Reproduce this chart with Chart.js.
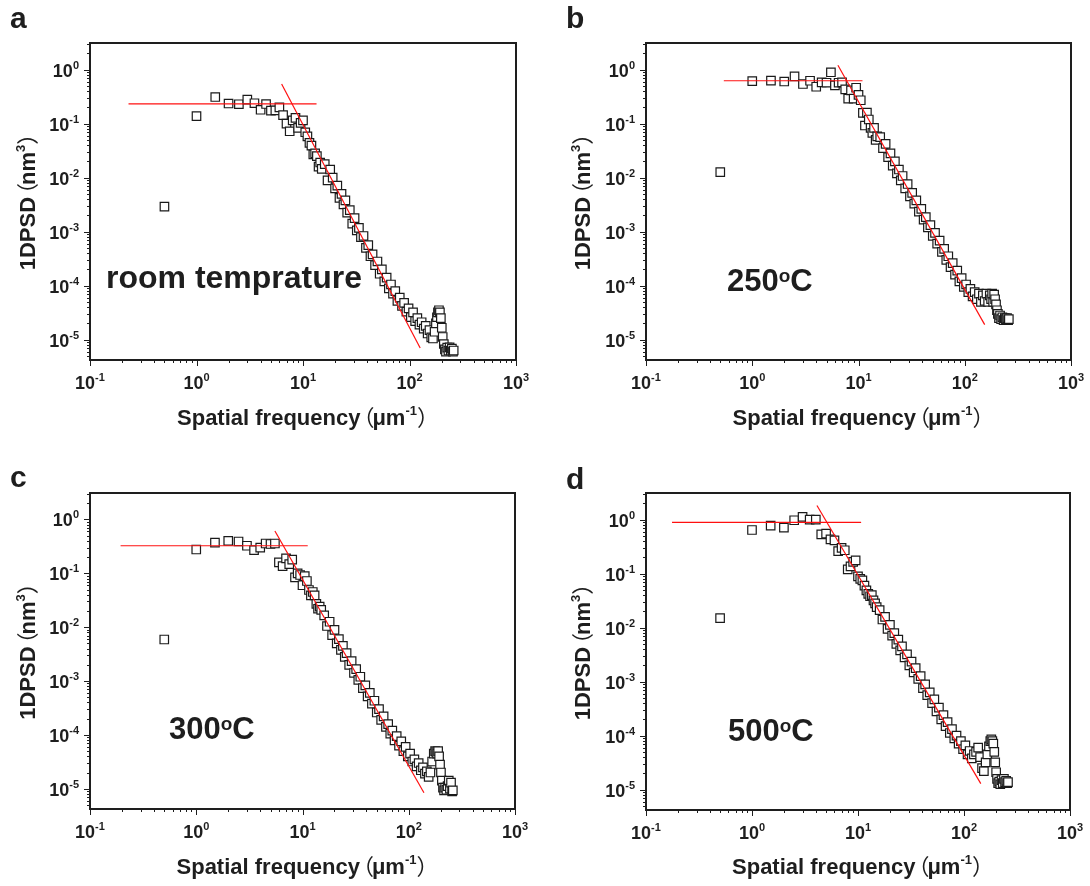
<!DOCTYPE html>
<html>
<head>
<meta charset="utf-8">
<title>1D PSD</title>
<script src="https://cdn.jsdelivr.net/npm/chart.js@4.4.1/dist/chart.umd.min.js"></script>
<style>
    html, body { margin: 0; padding: 0; background: #fff; }
    #figure { position: relative; width: 1090px; height: 886px; overflow: hidden; }
    .panel { position: absolute; width: 545px; height: 443px; }
    .panel canvas { display: block; }
</style>
</head>
<body>
<div id="figure">
    <div class="panel" style="left:0;top:0"><canvas id="panel-a" width="545" height="443"></canvas></div>
    <div class="panel" style="left:545px;top:0"><canvas id="panel-b" width="545" height="443"></canvas></div>
    <div class="panel" style="left:0;top:443px"><canvas id="panel-c" width="545" height="443"></canvas></div>
    <div class="panel" style="left:545px;top:443px"><canvas id="panel-d" width="545" height="443"></canvas></div>
</div>
<script>
// spatial frequency (um^-1), shared by all four samples
const FREQ = [
    0.5, 1, 1.5, 2, 2.5, 3, 3.5, 4, 4.5, 5, 5.5, 6, 6.5, 7, 7.5, 8, 8.5, 9, 9.5, 10,
    10.5, 11, 11.5, 12, 12.5, 13, 13.5, 14, 14.5, 15,
    16, 17, 18, 19, 20, 21, 22, 23, 24, 25,
    26, 27.5, 29, 30.5, 32, 33.5, 35,
    37, 39, 41, 43, 45,
    47.5, 50, 52.5, 55,
    58, 61, 64, 67, 70,
    73.5, 77, 81, 85, 89, 93.5, 98,
    103, 108, 113, 118.5, 124, 130, 136, 142, 148, 154, 160, 166, 172,
    177, 181, 185, 189, 193, 197, 201, 205,
    210, 215, 220, 226, 232, 238, 244, 250, 256, 260
];

// 1DPSD (nm^3)
const PSD_ROOM = [
    2.9e-3, 0.137, 0.31, 0.235, 0.228, 0.278, 0.238, 0.18, 0.23, 0.174, 0.175, 0.2, 0.143, 0.10, 0.072, 0.115, 0.127, 0.083, 0.103, 0.115,
    0.069, 0.058, 0.044, 0.039, 0.027, 0.028, 0.025, 0.016, 0.019, 0.0145,
    0.0178, 0.0089, 0.0141, 0.010, 0.0063, 0.0071, 0.0042, 0.005, 0.0032, 0.0038,
    0.00224, 0.0025, 0.00141, 0.00178, 0.00105, 0.00117, 7.9e-4,
    8.3e-4, 5.0e-4, 5.6e-4, 3.5e-4, 3.8e-4,
    2.4e-4, 2.8e-4, 1.66e-4, 2.0e-4,
    1.2e-4, 1.41e-4, 8.9e-5, 1.05e-4, 7.1e-5,
    7.9e-5, 5.2e-5, 6.0e-5, 4.2e-5, 4.8e-5, 3.3e-5, 3.8e-5,
    2.6e-5, 3.2e-5, 2.2e-5, 2.5e-5, 1.9e-5, 2.1e-5, 1.6e-5, 1.8e-5, 1.3e-5, 1.5e-5, 1.1e-5, 1.05e-5, 1.4e-5,
    2.0e-5, 2.6e-5, 3.2e-5, 3.5e-5, 3.2e-5, 2.5e-5, 1.66e-5, 1.12e-5,
    8.3e-6, 6.6e-6, 6.0e-6, 7.1e-6, 6.3e-6, 7.2e-6, 6.3e-6, 6.8e-6, 6.0e-6, 6.3e-6
];

const PSD_250 = [
    0.0126, 0.61, 0.625, 0.60, 0.75, 0.54, 0.62, 0.48, 0.58, 0.57, 0.89, 0.51, 0.57, 0.58, 0.43, 0.29, 0.41, 0.29, 0.46, 0.34,
    0.27, 0.158, 0.092, 0.16, 0.119, 0.083, 0.067, 0.083, 0.05, 0.058,
    0.056, 0.035, 0.042, 0.024, 0.028, 0.0166, 0.02, 0.012, 0.0141, 0.0089,
    0.0107, 0.0063, 0.0076, 0.0045, 0.0052, 0.0033, 0.0038,
    0.00234, 0.00263, 0.00166, 0.00186, 0.0012,
    0.00132, 8.3e-4, 9.5e-4, 6.0e-4,
    6.8e-4, 4.2e-4, 4.8e-4, 3.0e-4, 3.5e-4,
    2.2e-4, 2.6e-4, 1.6e-4, 1.9e-4, 1.2e-4, 1.38e-4, 9.5e-5,
    1.05e-4, 7.6e-5, 8.7e-5, 6.3e-5, 7.6e-5, 5.6e-5, 7.1e-5, 5.0e-5, 6.6e-5, 5.2e-5, 7.1e-5, 5.0e-5, 6.6e-5,
    5.6e-5, 7.1e-5, 5.0e-5, 6.8e-5, 5.6e-5, 4.5e-5, 3.5e-5, 3.0e-5,
    2.5e-5, 2.8e-5, 2.4e-5, 2.6e-5, 2.3e-5, 2.5e-5, 2.4e-5, 2.5e-5, 2.3e-5, 2.4e-5
];

const PSD_300 = [
    5.9e-3, 0.277, 0.37, 0.40, 0.39, 0.325, 0.27, 0.30, 0.358, 0.35, 0.358, 0.16, 0.136, 0.19, 0.148, 0.18, 0.084, 0.1, 0.093, 0.06,
    0.089, 0.072, 0.049, 0.039, 0.045, 0.039, 0.027, 0.022, 0.024, 0.021,
    0.0166, 0.0105, 0.0126, 0.0071, 0.0089, 0.005, 0.006, 0.0038, 0.0045, 0.0028,
    0.0033, 0.002, 0.00234, 0.00141, 0.00166, 0.00105, 0.0012,
    7.4e-4, 8.3e-4, 5.2e-4, 6.0e-4, 3.8e-4,
    4.3e-4, 2.6e-4, 3.0e-4, 1.9e-4,
    2.2e-4, 1.41e-4, 1.58e-4, 1.05e-4, 1.2e-4,
    7.9e-5, 9.5e-5, 6.3e-5, 7.6e-5, 5.0e-5, 6.0e-5, 4.0e-5,
    4.5e-5, 3.2e-5, 3.5e-5, 2.6e-5, 3.0e-5, 2.2e-5, 2.5e-5, 1.9e-5, 2.1e-5, 1.66e-5, 2.0e-5, 3.2e-5, 4.5e-5,
    5.0e-5, 4.8e-5, 4.5e-5, 5.0e-5, 4.0e-5, 2.8e-5, 2.0e-5, 1.41e-5,
    1.05e-5, 9.3e-6, 1.05e-5, 9.5e-6, 1.12e-5, 1.41e-5, 1.0e-5, 1.3e-5, 8.9e-6, 9.3e-6
];

const PSD_500 = [
    0.015, 0.64, 0.77, 0.71, 0.97, 1.12, 1.0, 1.0, 0.53, 0.55, 0.43, 0.41, 0.26, 0.30, 0.27, 0.12, 0.136, 0.164, 0.176, 0.089,
    0.080, 0.075, 0.060, 0.049, 0.042, 0.038, 0.04, 0.032, 0.028, 0.024,
    0.021, 0.0141, 0.0158, 0.0095, 0.0112, 0.0071, 0.0079, 0.005, 0.006, 0.0038,
    0.0045, 0.0028, 0.0032, 0.002, 0.00234, 0.00148, 0.00178,
    0.00112, 0.00126, 7.6e-4, 8.9e-4, 5.6e-4,
    6.3e-4, 4.0e-4, 4.7e-4, 2.8e-4,
    3.3e-4, 2.0e-4, 2.4e-4, 1.5e-4, 1.78e-4,
    1.12e-4, 1.32e-4, 8.9e-5, 1.0e-4, 7.1e-5, 7.9e-5, 5.6e-5,
    6.6e-5, 4.5e-5, 5.2e-5, 3.8e-5, 4.5e-5, 5.0e-5, 6.0e-5, 4.0e-5, 2.5e-5, 2.2e-5, 3.2e-5, 4.5e-5, 6.3e-5,
    7.9e-5, 8.5e-5, 7.9e-5, 7.1e-5, 5.0e-5, 3.2e-5, 2.1e-5, 1.58e-5,
    1.32e-5, 1.41e-5, 1.26e-5, 1.5e-5, 1.32e-5, 1.58e-5, 1.38e-5, 1.45e-5, 1.32e-5, 1.38e-5
];

// fitted lines: plateau and power-law segment
const FIT_ROOM_FLAT_X = [0.23, 13.4];
const FIT_ROOM_FLAT_Y = [0.231, 0.231];
const FIT_ROOM_SLOPE_X = [6.3, 126];
const FIT_ROOM_SLOPE_Y = [0.54, 7.0e-6];

const FIT_250_FLAT_X = [0.54, 10.9];
const FIT_250_FLAT_Y = [0.62, 0.62];
const FIT_250_SLOPE_X = [6.4, 154];
const FIT_250_SLOPE_Y = [1.2, 1.9e-5];

const FIT_300_FLAT_X = [0.194, 11.2];
const FIT_300_FLAT_Y = [0.325, 0.325];
const FIT_300_SLOPE_X = [5.5, 139];
const FIT_300_SLOPE_Y = [0.61, 8.4e-6];

const FIT_500_FLAT_X = [0.176, 10.7];
const FIT_500_FLAT_Y = [0.89, 0.89];
const FIT_500_SLOPE_X = [4.1, 144];
const FIT_500_SLOPE_Y = [1.82, 1.29e-5];

// axis decades (tick labels are 10^n)
const X_DECADES = [-1, 0, 1, 2, 3];
const Y_DECADES = [-5, -4, -3, -2, -1, 0];
const X_MIN = 0.1, X_MAX = 1000;
const Y_MIN = 4.2e-6, Y_MAX = 3.1;

const FONT = '"Liberation Sans", Arial, Helvetica, sans-serif';
const CJK = '"Noto Sans CJK SC", "Liberation Sans", sans-serif';
const INK = '#1e1e1e';

const PANELS = [
    {
        canvas: 'panel-a', psd: PSD_ROOM,
        flat: [FIT_ROOM_FLAT_X, FIT_ROOM_FLAT_Y], slope: [FIT_ROOM_SLOPE_X, FIT_ROOM_SLOPE_Y],
        area: { left: 90, right: 516, top: 43, bottom: 360 },
        letter: 'a', letterPos: [10, 28], yTitleX: 35, xTitleY: 425,
        note: { kind: 'plain', text: 'room temprature', x: 106, y: 288 }
    },
    {
        canvas: 'panel-b', psd: PSD_250,
        flat: [FIT_250_FLAT_X, FIT_250_FLAT_Y], slope: [FIT_250_SLOPE_X, FIT_250_SLOPE_Y],
        area: { left: 101, right: 526, top: 43, bottom: 360 },
        letter: 'b', letterPos: [21, 28], yTitleX: 45, xTitleY: 425,
        note: { kind: 'temp', text: '250', x: 182, y: 291 }
    },
    {
        canvas: 'panel-c', psd: PSD_300,
        flat: [FIT_300_FLAT_X, FIT_300_FLAT_Y], slope: [FIT_300_SLOPE_X, FIT_300_SLOPE_Y],
        area: { left: 90, right: 515, top: 50, bottom: 366 },
        letter: 'c', letterPos: [10, 44], yTitleX: 35, xTitleY: 431,
        note: { kind: 'temp', text: '300', x: 169, y: 296 }
    },
    {
        canvas: 'panel-d', psd: PSD_500,
        flat: [FIT_500_FLAT_X, FIT_500_FLAT_Y], slope: [FIT_500_SLOPE_X, FIT_500_SLOPE_Y],
        area: { left: 101, right: 525, top: 50, bottom: 367 },
        letter: 'd', letterPos: [21, 46], yTitleX: 45, xTitleY: 431,
        note: { kind: 'temp', text: '500', x: 183, y: 298 }
    }
];

document.addEventListener('DOMContentLoaded', () => {
    PANELS.forEach(panel => buildPanel(panel));
});

// text made of runs of different fonts / raised superscripts
// lead/tail trim the wide side bearings of the full-width brackets
function runAdvance(ctx, r) {
    ctx.font = r.font;
    return ctx.measureText(r.text).width + (r.lead || 0) + (r.tail || 0);
}

function runsWidth(ctx, runs) {
    return runs.reduce((w, r) => w + runAdvance(ctx, r), 0);
}

function drawRuns(ctx, runs, x, y) {
    let cx = x;
    runs.forEach(r => {
        ctx.font = r.font;
        ctx.fillText(r.text, cx + (r.lead || 0), y - (r.rise || 0));
        cx += runAdvance(ctx, r);
    });
}

function powerRuns(exp) {
    return [
        { text: '10', font: `bold 18px ${FONT}` },
        { text: String(exp), font: `bold 11px ${FONT}`, rise: 8 }
    ];
}

function bracketed(word, inner, sup) {
    return [
        { text: word, font: `bold 22px ${FONT}` },
        { text: '（', font: `22px ${CJK}`, lead: -8, tail: -2 },
        { text: inner, font: `bold 22px ${FONT}` },
        { text: sup, font: `bold 13px ${FONT}`, rise: 10 },
        { text: '）', font: `22px ${CJK}`, lead: 0, tail: -10 }
    ];
}

const psdAxesPlugin = {
    id: 'psdAxes',
    afterDraw(chart, args, opts) {
        const { ctx, chartArea: a, scales: { x, y } } = chart;
        const panel = opts.panel;
        ctx.save();
        ctx.fillStyle = INK;
        ctx.strokeStyle = INK;
        ctx.textAlign = 'left';
        ctx.textBaseline = 'alphabetic';

        // frame
        ctx.lineWidth = 2;
        ctx.strokeRect(a.left, a.top, a.right - a.left, a.bottom - a.top);

        // ticks
        ctx.lineWidth = 1;
        ctx.beginPath();
        X_DECADES.forEach(d => {
            for (let k = 1; k <= 9; k++) {
                const v = k * Math.pow(10, d);
                if (v > X_MAX * 1.0001) break;
                const px = Math.round(x.getPixelForValue(v)) + 0.5;
                ctx.moveTo(px, a.bottom);
                ctx.lineTo(px, a.bottom + (k === 1 ? 6 : 3));
            }
        });
        [-6].concat(Y_DECADES).forEach(d => {
            for (let k = 1; k <= 9; k++) {
                const v = k * Math.pow(10, d);
                if (v < Y_MIN || v > Y_MAX) continue;
                const py = Math.round(y.getPixelForValue(v)) + 0.5;
                ctx.moveTo(a.left, py);
                ctx.lineTo(a.left - (k === 1 ? 6 : 3), py);
            }
        });
        ctx.stroke();

        // tick labels
        X_DECADES.forEach(d => {
            const runs = powerRuns(d);
            const w = runsWidth(ctx, runs);
            drawRuns(ctx, runs, x.getPixelForValue(Math.pow(10, d)) - w / 2, a.bottom + 29);
        });
        Y_DECADES.forEach(d => {
            const runs = powerRuns(d);
            const w = runsWidth(ctx, runs);
            drawRuns(ctx, runs, a.left - 11 - w, y.getPixelForValue(Math.pow(10, d)) + 7);
        });

        // axis titles
        const xTitle = bracketed('Spatial frequency', 'μm', '-1');
        drawRuns(ctx, xTitle, (a.left + a.right) / 2 - runsWidth(ctx, xTitle) / 2, panel.xTitleY);

        const yTitle = bracketed('1DPSD', 'nm', '3');
        ctx.save();
        ctx.translate(panel.yTitleX, (a.top + a.bottom) / 2);
        ctx.rotate(-Math.PI / 2);
        drawRuns(ctx, yTitle, -runsWidth(ctx, yTitle) / 2, 0);
        ctx.restore();

        // panel letter
        ctx.font = `bold 30px ${FONT}`;
        ctx.fillText(panel.letter, panel.letterPos[0], panel.letterPos[1]);

        // sample annotation
        const note = panel.note;
        if (note.kind === 'plain') {
            ctx.font = `bold 32px ${FONT}`;
            ctx.fillText(note.text, note.x, note.y);
        } else {
            drawRuns(ctx, [
                { text: note.text, font: `bold 31px ${FONT}` },
                { text: 'o', font: `bold 19px ${FONT}`, rise: 9 },
                { text: 'C', font: `bold 31px ${FONT}` }
            ], note.x, note.y);
        }
        ctx.restore();
    }
};

function fitDataset(xs, ys) {
    return {
        data: xs.map((v, i) => ({ x: v, y: ys[i] })),
        showLine: true,
        borderColor: '#ff1010',
        borderWidth: 1.2,
        pointRadius: 0,
        fill: false,
        order: 1
    };
}

function buildPanel(panel) {
    const canvas = document.getElementById(panel.canvas);
    const a = panel.area;

    new Chart(canvas.getContext('2d'), {
        type: 'scatter',
        data: {
            datasets: [
                fitDataset(panel.flat[0], panel.flat[1]),
                fitDataset(panel.slope[0], panel.slope[1]),
                {
                    data: FREQ.map((f, i) => ({ x: f, y: panel.psd[i] })),
                    pointStyle: 'rect',
                    pointRadius: 6,
                    borderWidth: 1.2,
                    borderColor: '#1a1a1a',
                    backgroundColor: '#ffffff',
                    order: 2
                }
            ]
        },
        options: {
            responsive: false,
            animation: false,
            devicePixelRatio: 1,
            layout: {
                padding: { left: 0, top: a.top, right: canvas.width - a.right, bottom: 0 }
            },
            plugins: {
                legend: { display: false },
                tooltip: { enabled: false },
                psdAxes: { panel: panel }
            },
            scales: {
                x: {
                    type: 'logarithmic',
                    min: X_MIN,
                    max: X_MAX,
                    grid: { display: false },
                    border: { display: false },
                    ticks: { display: false },
                    afterFit: s => { s.height = canvas.height - a.bottom; }
                },
                y: {
                    type: 'logarithmic',
                    min: Y_MIN,
                    max: Y_MAX,
                    grid: { display: false },
                    border: { display: false },
                    ticks: { display: false },
                    afterFit: s => { s.width = a.left; }
                }
            }
        },
        plugins: [psdAxesPlugin]
    });
}
</script>
</body>
</html>
